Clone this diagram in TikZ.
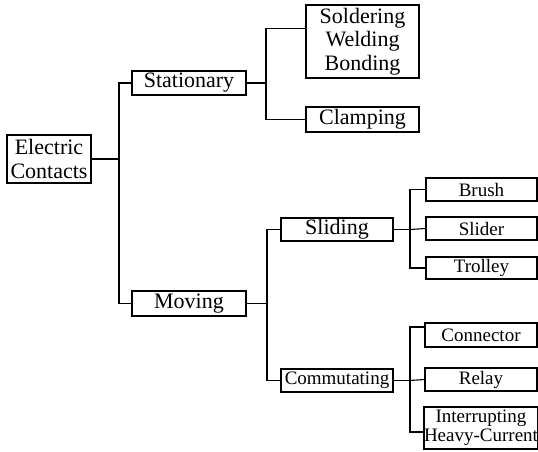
\documentclass[tikz,border=0pt]{standalone}
\usepackage{fontspec}
\setmainfont{Liberation Serif}

\begin{document}
\begin{tikzpicture}[
  x=1pt, y=-1pt,
  box/.style={draw, line width=1.1pt, inner sep=0pt, align=center},
  big/.style={box, font=\fontsize{22}{23.5}\selectfont},
  small/.style={box, font=\fontsize{19}{19.5}\selectfont},
  link/.style={line width=1.1pt}
]
  \useasboundingbox (0,0) rectangle (538,452);

  % root and first level
  \node[big, minimum width=84, minimum height=48] (ec) at (49,159) {Electric\\Contacts};
  \node[big, minimum width=114, minimum height=24] (stat) at (189,83) {Stationary};
  \node[big, minimum width=114, minimum height=25] (mov) at (189,303.5) {Moving};

  % stationary branch
  \node[big, minimum width=113, minimum height=73] (sold) at (362.5,41.5) {Soldering\\Welding\\Bonding};
  \node[big, minimum width=113, minimum height=25] (clamp) at (362.5,119.5) {Clamping};

  % moving branch
  \node[big, minimum width=112, minimum height=23] (slid) at (337,229.5) {Sliding};
  \node[small, minimum width=112, minimum height=23] (comm) at (337,380.5) {Commutating};

  \node[small, minimum width=111, minimum height=23] (brush) at (481.5,189.5) {Brush};
  \node[small, minimum width=111, minimum height=23] (slider) at (481.5,228.5) {Slider};
  \node[small, minimum width=111, minimum height=22] (troll) at (481.5,268) {Trolley};

  \node[small, minimum width=112, minimum height=24] (conn) at (481,335) {Connector};
  \node[small, minimum width=112, minimum height=23] (relay) at (481,379.5) {Relay};
  \node[small, minimum width=112, minimum height=42] (intr) at (481,428) {Interrupting\\Heavy-Current};

  % junctions
  \coordinate (j1) at (119,159);
  \coordinate (j2) at (266,83);
  \coordinate (j3) at (267,303.5);
  \coordinate (j4) at (410,229.5);
  \coordinate (j5) at (410,380.5);

  \draw[link] (ec.east) -- (j1);
  \draw[link] (stat.west) -| (j1) |- (mov.west);

  \draw[link] (stat.east) -- (j2);
  \draw[link] ([yshift=13pt]sold.west) -| (j2) |- (clamp.west);

  \draw[link] (mov.east) -- (j3);
  \draw[link] (slid.west) -| (j3) |- (comm.west);

  \draw[link] (slid.east) -- (j4);
  \draw[link] (brush.west) -| (j4) |- (troll.west);
  \draw[link] (j4) -- (slider.west);

  \draw[link] (comm.east) -- (j5);
  \draw[link] ([yshift=8pt]conn.west) -| (j5) |- ([yshift=-4pt]intr.west);
  \draw[link] (j5) -- (relay.west);
\end{tikzpicture}
\end{document}
